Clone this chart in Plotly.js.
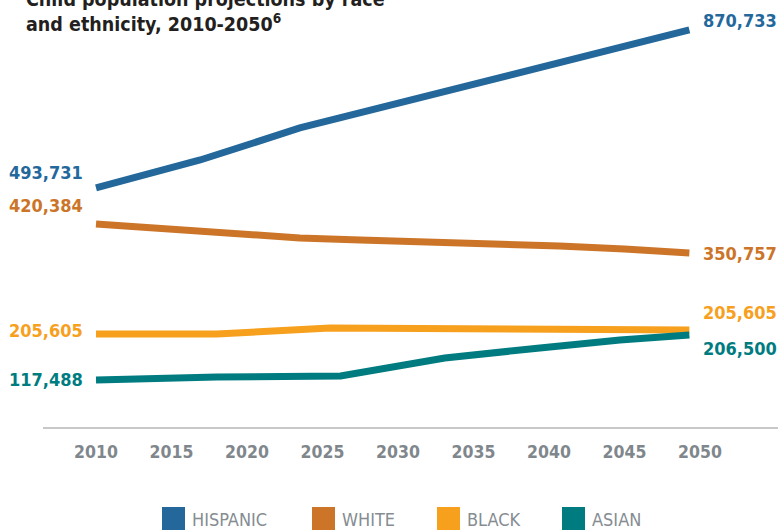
<!DOCTYPE html>
<html>
<head>
<meta charset="utf-8">
<script src="https://cdn.plot.ly/plotly-3.0.1.min.js"></script>
<style>
  html, body { margin: 0; padding: 0; background: #ffffff; }
  #chart { width: 778px; height: 531px; }
</style>
</head>
<body>
<div id="chart"></div>
<script>
// ---- Data ----
const seriesNames = ['HISPANIC', 'WHITE', 'BLACK', 'ASIAN'];

const hispanicYears  = [2010, 2016.9, 2023.5, 2030.1, 2049.3];
const hispanicValues = [513400, 573500, 642300, 696000, 852800];

const whiteYears  = [2010, 2015.2, 2018.3, 2023.5, 2027.5, 2034.8, 2040.7, 2045.0, 2049.3];
const whiteValues = [436000, 425300, 416700, 406000, 401700, 395200, 388800, 382300, 373800];

const blackYears  = [2010, 2018.0, 2025.5, 2039.4, 2049.3];
const blackValues = [199800, 199800, 212700, 211600, 208400];

const asianYears  = [2010, 2018.0, 2026.2, 2033.1, 2039.4, 2044.7, 2049.3];
const asianValues = [101000, 107400, 109500, 148200, 169700, 186900, 197600];

const tickYears  = [2010, 2015, 2020, 2025, 2030, 2035, 2040, 2045, 2050];
const tickLabels = ['2010', '2015', '2020', '2025', '2030', '2035', '2040', '2045', '2050'];

const startLabels = ['493,731', '420,384', '205,605', '117,488'];
const endLabels   = ['870,733', '350,757', '205,605', '206,500'];

const titleLines = ['Child population projections by race', 'and ethnicity, 2010-2050<sup>6</sup>'];

// ---- Styles ----
const colors = ['#24689b', '#cc7528', '#f7a01e', '#007c80'];
const FONT = 'DejaVu Sans Condensed, Liberation Sans Narrow, sans-serif';
const W = 778, H = 531;
const M = { l: 43, r: 0, t: 8, b: 104 };
const plotW = W - M.l - M.r, plotH = H - M.t - M.b;
const px2x = px => (px - M.l) / plotW;          // pixel -> paper x
const py2y = py => (H - M.b - py) / plotH;      // pixel -> paper y

const xs = [hispanicYears, whiteYears, blackYears, asianYears];
const ys = [hispanicValues, whiteValues, blackValues, asianValues];

const traces = seriesNames.map((n, i) => ({
  type: 'scatter', mode: 'lines', name: n,
  x: xs[i], y: ys[i],
  line: { color: colors[i], width: 7 },
  hoverinfo: 'skip', showlegend: false
}));

// label placement (pixel centers)
const startLabelY = [173, 205, 330, 379];
const endLabelY   = [20, 253, 312, 348];

const annotations = [];
seriesNames.forEach((n, i) => {
  annotations.push({
    xref: 'paper', yref: 'paper', x: px2x(85), y: py2y(startLabelY[i]),
    xanchor: 'right', yanchor: 'middle', showarrow: false,
    text: '<b>' + startLabels[i] + '</b>',
    font: { family: FONT, size: 18, color: colors[i] }
  });
  annotations.push({
    xref: 'paper', yref: 'paper', x: px2x(701), y: py2y(endLabelY[i]),
    xanchor: 'left', yanchor: 'middle', showarrow: false,
    text: '<b>' + endLabels[i] + '</b>',
    font: { family: FONT, size: 18, color: colors[i] }
  });
});

// title (first line is cropped at the top edge, as in the reference)
annotations.push({
  xref: 'paper', yref: 'paper', x: px2x(24), y: py2y(38),
  xanchor: 'left', yanchor: 'bottom', align: 'left', showarrow: false,
  text: '<b>' + titleLines.join('<br>') + '</b>',
  font: { family: FONT, size: 19.5, color: '#231f20' }
});

// manual legend
const legendSquareX = [162, 312, 437, 562];
const shapes = [];
seriesNames.forEach((n, i) => {
  shapes.push({
    type: 'rect', xref: 'paper', yref: 'paper',
    x0: px2x(legendSquareX[i]), x1: px2x(legendSquareX[i] + 23),
    y0: py2y(530), y1: py2y(507),
    fillcolor: colors[i], line: { width: 0 }
  });
  annotations.push({
    xref: 'paper', yref: 'paper', x: px2x(legendSquareX[i] + 28), y: py2y(519),
    xanchor: 'left', yanchor: 'middle', showarrow: false,
    text: n, font: { family: FONT, size: 18, color: '#858c92' }
  });
});

const layout = {
  width: W, height: H,
  margin: M,
  paper_bgcolor: '#ffffff', plot_bgcolor: '#ffffff',
  showlegend: false,
  xaxis: {
    range: [2006.49, 2055.17],
    tickvals: tickYears, ticktext: tickLabels,
    showgrid: false, zeroline: false,
    showline: true, linecolor: '#c8c8c8', linewidth: 2,
    ticks: '', ticklabelstandoff: 8,
    tickfont: { family: FONT, size: 17.5, color: '#7f878d', weight: 'bold' },
    fixedrange: true
  },
  yaxis: {
    range: [0, 900000],
    showgrid: false, zeroline: false, showline: false,
    showticklabels: false, ticks: '', fixedrange: true
  },
  annotations: annotations,
  shapes: shapes
};

Plotly.newPlot('chart', traces, layout, { displayModeBar: false, staticPlot: true });
</script>
</body>
</html>
